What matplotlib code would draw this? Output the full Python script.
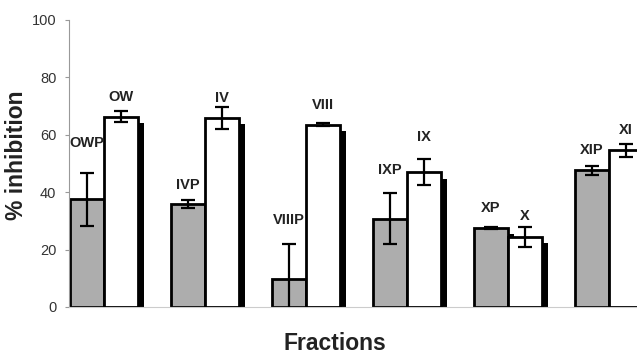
import numpy as np
import matplotlib
matplotlib.use("Agg")
import matplotlib.pyplot as plt

# ---- data ----
fractions_p = ["OWP", "IVP", "VIIIP", "IXP", "XP", "XIP"]
fractions_w = ["OW", "IV", "VIII", "IX", "X", "XI"]
inhib_p = [37.5, 35.8, 9.8, 30.8, 27.6, 47.6]
err_p = [9.2, 1.4, 12.0, 9.0, 0.4, 1.6]
inhib_w = [66.3, 65.9, 63.5, 47.0, 24.5, 54.6]
err_w = [2.0, 3.8, 0.6, 4.6, 3.5, 2.2]
label_y_p = [57, 42.5, 30.3, 47.7, 34.4, 54.7]
label_y_w = [73.3, 72.8, 70.4, 59.3, 31.7, 61.7]
# ----------------------------------

plt.rcParams['font.family'] = ['Liberation Sans', 'DejaVu Sans']

fig = plt.figure(figsize=(6.37, 3.56), dpi=100)
ax = fig.add_axes([69 / 637, 49 / 356, 568 / 637, 287 / 356])

x = np.arange(len(fractions_p))
w = 0.337
dx, dy = 0.055, 2.3

# shadows behind the bars
ax.bar(x + dx, np.array(inhib_p) - dy, w, align='edge', color='black', zorder=1)
ax.bar(x + w + dx, np.array(inhib_w) - dy, w, align='edge', color='black', zorder=1)

ax.bar(x, inhib_p, w, align='edge', color='#adadad', edgecolor='black',
       linewidth=2, zorder=2)
ax.bar(x + w, inhib_w, w, align='edge', color='white', edgecolor='black',
       linewidth=2, zorder=3)

ax.errorbar(x + w / 2, inhib_p, yerr=err_p, fmt='none', ecolor='black',
            elinewidth=1.6, capsize=4.7, capthick=1.6, zorder=4)
ax.errorbar(x + 1.5 * w, inhib_w, yerr=err_w, fmt='none', ecolor='black',
            elinewidth=1.6, capsize=4.7, capthick=1.6, zorder=4)

for i in range(len(x)):
    ax.text(x[i] + w / 2, label_y_p[i], fractions_p[i], ha='center', va='center',
            fontsize=10.5, fontweight='bold', color='#222222')
    ax.text(x[i] + 1.5 * w, label_y_w[i], fractions_w[i], ha='center', va='center',
            fontsize=10.5, fontweight='bold', color='#222222')

ax.set_xlim(-0.01, 5.614)
ax.set_ylim(0, 100)
ax.set_yticks([0, 20, 40, 60, 80, 100])
ax.set_xticks([])
ax.tick_params(axis='y', length=3, color='#999999', pad=6, labelsize=10.5,
               labelcolor='#333333')

for s in ['top', 'right']:
    ax.spines[s].set_visible(False)
ax.spines['left'].set_color('#999999')
ax.spines['bottom'].set_color('#cccccc')

fig.text(17 / 637, 1 - 155 / 356, "% inhibition", rotation=90, ha='center',
         va='center', fontsize=16.5, fontweight='bold', color='#222222')
fig.text(335 / 637, 1 - 344 / 356, "Fractions", ha='center', va='center',
         fontsize=16.5, fontweight='bold', color='#222222')

fig.savefig("out.png", dpi=100)
